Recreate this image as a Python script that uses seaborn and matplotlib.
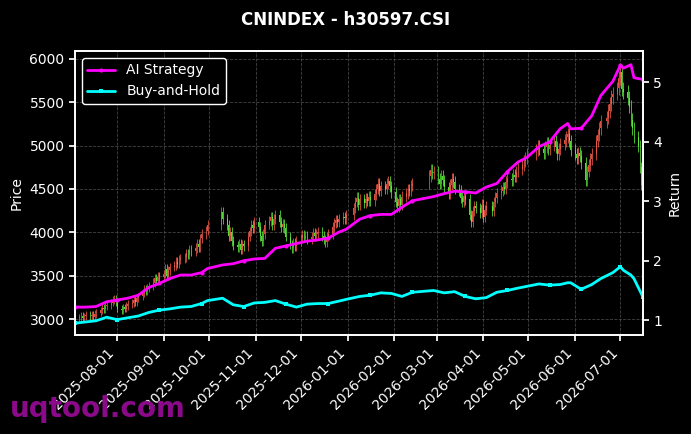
import numpy as np
import pandas as pd
import matplotlib
matplotlib.use("Agg")
import matplotlib.pyplot as plt
import matplotlib.dates as mdates
import seaborn as sns

# ---------------- data ----------------
holidays = ["2025-10-01", "2025-10-02", "2025-10-03", "2025-10-06", "2025-10-07", "2025-10-08",
            "2026-01-01", "2026-01-02", "2026-02-16", "2026-02-17", "2026-02-18", "2026-02-19",
            "2026-02-20", "2026-02-23", "2026-04-06", "2026-05-01", "2026-05-04", "2026-05-05",
            "2026-06-19"]

closes = [
    3015,
    3020, 3035, 3010, 3030, 3045,
    3030, 3050, 3020, 3060, 3075,
    3100, 3130, 3110, 3150, 3165,
    3190, 3215, 3235, 3200, 3120,
    3100, 3135, 3120, 3150, 3170,
    3185, 3220, 3200, 3245, 3260,
    3300, 3340, 3320, 3360, 3380,
    3420, 3470, 3440, 3490, 3480,
    3520, 3580, 3500, 3560, 3600,
    3620, 3660, 3640, 3690, 3700,
    3710, 3760, 3740, 3800, 3780,
    3820, 3870, 3830, 3930, 3980,
    4020, 4080,
    4230, 4150,
    4080, 3960, 4000, 3900, 3850,
    3830, 3870, 3800, 3860, 3840,
    3950, 4010, 4080, 4050, 4120,
    4060, 3960, 3900, 3980, 4090,
    4130, 4180, 4080, 4150, 4200,
    4120, 4060, 4100, 4050, 3950,
    3860, 3820, 3880, 3840, 3900,
    3930, 3970, 3940, 3960, 3920,
    3950, 3990, 3960, 3980, 4000,
    3960, 3920, 3890, 3950, 3980,
    4060, 4110, 4140, 4120, 4150,
    4180, 4160, 4200,
    4280, 4350, 4400, 4320, 4380,
    4340, 4390, 4360, 4410, 4370,
    4440, 4500, 4560, 4480, 4530,
    4500, 4560, 4590, 4530, 4460,
    4350, 4300, 4380, 4320, 4410,
    4450, 4500, 4480, 4540, 4560,
    4650, 4720, 4680, 4700,
    4620, 4560, 4650, 4600, 4520,
    4450, 4550, 4620, 4580, 4500,
    4480, 4400, 4350, 4420, 4380,
    4200, 4120, 4250, 4300, 4280,
    4220, 4320, 4180, 4260, 4300,
    4250, 4350, 4400, 4450,
    4480, 4520, 4500, 4580, 4620,
    4600, 4660, 4640, 4700, 4730,
    4780, 4820, 4860, 4900,
    4950, 4990, 4960,
    4920, 4980, 5030, 4960, 5010,
    5050, 4980, 4900, 4960, 5020,
    5060, 5100, 5130, 5050, 4950,
    4900, 4860, 4920, 4880, 4800,
    4600, 4700, 4780, 4850, 4900,
    5050, 5120, 5200, 5280,
    5320, 5400, 5480, 5560, 5600,
    5660, 5780, 5850, 5650, 5620,
    5550, 5450, 5300, 5200, 5100,
    5000, 4750, 4550, 4400,
]

ret_dates = ["2025-07-04", "2025-07-11", "2025-07-18", "2025-07-25", "2025-08-01", "2025-08-08",
             "2025-08-15", "2025-08-22", "2025-08-29", "2025-09-05", "2025-09-12", "2025-09-19",
             "2025-09-26", "2025-09-30", "2025-10-10", "2025-10-17", "2025-10-24", "2025-10-31",
             "2025-11-07", "2025-11-14", "2025-11-21", "2025-11-28", "2025-12-05", "2025-12-12",
             "2025-12-19", "2025-12-26", "2025-12-31", "2026-01-09", "2026-01-16", "2026-01-23",
             "2026-01-30", "2026-02-06", "2026-02-13", "2026-02-27", "2026-03-06", "2026-03-13",
             "2026-03-20", "2026-03-27", "2026-04-03", "2026-04-10", "2026-04-17", "2026-04-24",
             "2026-04-30", "2026-05-08", "2026-05-15", "2026-05-22", "2026-05-27", "2026-05-29",
             "2026-06-05", "2026-06-12", "2026-06-18", "2026-06-26", "2026-07-01", "2026-07-03",
             "2026-07-08", "2026-07-10", "2026-07-16"]

ai_return = [1.22, 1.22, 1.23, 1.31, 1.34, 1.37, 1.42, 1.55, 1.62, 1.70, 1.76, 1.76,
             1.80, 1.87, 1.93, 1.95, 2.00, 2.03, 2.04, 2.21, 2.25, 2.29, 2.33, 2.35,
             2.38, 2.48, 2.53, 2.70, 2.76, 2.78, 2.78, 2.90, 3.01, 3.08, 3.13, 3.17,
             3.16, 3.14, 3.24, 3.30, 3.50, 3.66, 3.74, 3.92, 4.00, 4.22, 4.31, 4.22,
             4.23, 4.44, 4.78, 5.02, 5.29, 5.24, 5.30, 5.08, 5.05]

bh_return = [0.95, 0.97, 0.99, 1.05, 1.01, 1.04, 1.07, 1.13, 1.17, 1.19, 1.22, 1.23,
             1.28, 1.33, 1.37, 1.26, 1.23, 1.29, 1.30, 1.33, 1.27, 1.22, 1.27, 1.28,
             1.28, 1.32, 1.35, 1.40, 1.42, 1.46, 1.45, 1.40, 1.47, 1.50, 1.46, 1.48,
             1.40, 1.36, 1.38, 1.47, 1.50, 1.54, 1.57, 1.61, 1.59, 1.60, 1.63, 1.63,
             1.52, 1.60, 1.70, 1.80, 1.90, 1.84, 1.76, 1.70, 1.39]

# ---------------- build frames ----------------
all_days = pd.bdate_range("2025-07-04", "2026-07-16")
trade_days = all_days[~all_days.isin(pd.to_datetime(holidays))]
n = min(len(trade_days), len(closes))
price = pd.DataFrame({"date": trade_days[:n], "close": closes[:n]})
price["open"] = price["close"].shift(1).fillna(price["close"].iloc[0] - 10)
price["top"] = price[["open", "close"]].max(axis=1)
price["bot"] = price[["open", "close"]].min(axis=1)
price["high"] = price["top"] * 1.014
price["low"] = price["bot"] * 0.986
price["up"] = price["close"] >= price["open"]

ret = pd.DataFrame({"date": pd.to_datetime(ret_dates), "AI Strategy": ai_return,
                    "Buy-and-Hold": bh_return})

# ---------------- style ----------------
sns.set_theme(style="dark")
plt.rcParams.update({
    "figure.facecolor": "black", "axes.facecolor": "black", "savefig.facecolor": "black",
    "axes.edgecolor": "white", "text.color": "white", "axes.labelcolor": "white",
    "xtick.color": "white", "ytick.color": "white", "xtick.bottom": True, "ytick.left": True,
})
plt.rcParams["font.family"] = ["DejaVu Sans"]

fig = plt.figure(figsize=(6.91, 4.34), dpi=100)
ax = fig.add_axes([0.1085, 0.228, 0.822, 0.6545])
ax.set_facecolor("black")

up_c = "#f25a48"
dn_c = "#5cf03c"
colors = np.where(price["up"], up_c, dn_c)
ax.vlines(price["date"], price["low"], price["high"], colors=colors, linewidth=0.6,
          alpha=0.9, zorder=2)
ax.bar(price["date"], (price["top"] - price["bot"]).clip(lower=4), bottom=price["bot"],
       width=0.55, color=colors, linewidth=0, alpha=0.9, zorder=3)

ax.set_ylim(2815, 6092)
ax.set_ylabel("Price", color="white", fontsize=10)
ax.grid(True, color="#555555", linestyle="--", linewidth=0.6, alpha=0.8)
ax.tick_params(axis="both", colors="white", labelsize=10, length=4)
for s in ax.spines.values():
    s.set_color("white")

ax2 = ax.twinx()
sns.lineplot(data=ret, x="date", y="AI Strategy", ax=ax2, color="#ff00ff", linewidth=2,
             marker="o", markersize=3, markevery=4, markeredgewidth=0, label="AI Strategy")
sns.lineplot(data=ret, x="date", y="Buy-and-Hold", ax=ax2, color="#00ffff", linewidth=2,
             marker="s", markersize=3, markevery=4, markeredgewidth=0, label="Buy-and-Hold")
ax2.set_ylim(0.75, 5.53)
ax2.set_ylabel("Return", color="white", fontsize=10)
ax2.tick_params(axis="y", colors="white", labelsize=10, length=4)
ax2.grid(False)
for s in ax2.spines.values():
    s.set_color("white")

leg = ax2.legend(loc="upper left", facecolor="black", edgecolor="white", fontsize=10,
                 framealpha=1.0)
for t in leg.get_texts():
    t.set_color("white")

ax.set_xlim(pd.Timestamp("2025-07-04"), pd.Timestamp("2026-07-16"))
ax.xaxis.set_major_locator(mdates.MonthLocator())
ax.xaxis.set_major_formatter(mdates.DateFormatter("%Y-%m-%d"))
ax2.set_xlabel("")
ax.set_xlabel("")
plt.setp(ax.get_xticklabels(), rotation=45, ha="right", rotation_mode="default")

fig.suptitle("CNINDEX - h30597.CSI", color="white", fontsize=12, fontweight="bold", y=0.975)
fig.text(0.015, 0.04, "uqtool.com", color="#8a0a8a", fontsize=20, fontweight="bold",
         zorder=0)

fig.savefig("out.png", dpi=100, facecolor="black")
